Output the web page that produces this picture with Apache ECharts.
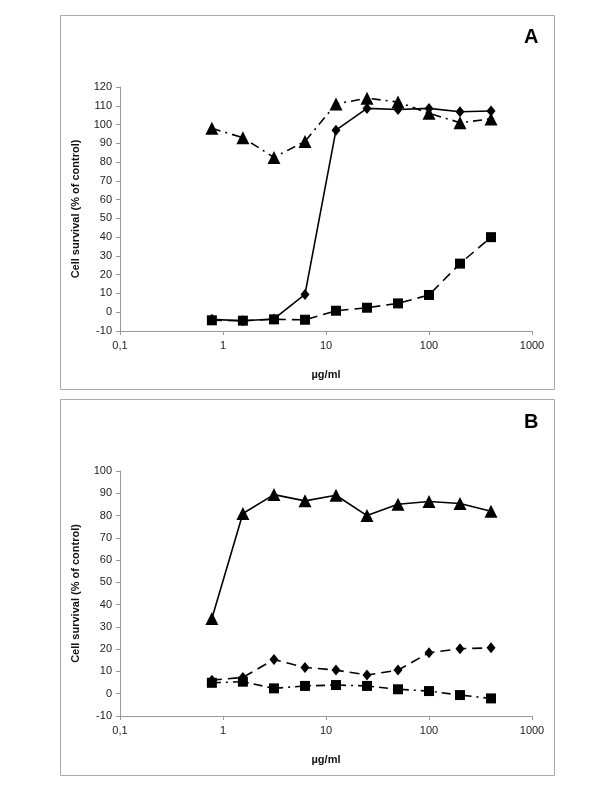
<!DOCTYPE html>
<html><head><meta charset="utf-8">
<script src="https://cdn.jsdelivr.net/npm/echarts@6/dist/echarts.min.js"></script>
<style>html,body{margin:0;padding:0;background:#fff}#c{width:600px;height:800px}</style>
</head><body><div id="c"></div>
<script>
const doses = [0.78, 1.56, 3.125, 6.25, 12.5, 25, 50, 100, 200, 400];
const xTickLabels = ['0,1', '1', '10', '100', '1000'];

// Panel A
const aTriangles = [98, 93, 82.5, 91, 111, 114, 112, 106, 101, 103];
const aDiamonds = [-3.8, -4.5, -3.6, 9.5, 97, 108.6, 108, 108.6, 106.8, 107.2];
const aSquares = [-4.3, -4.5, -3.8, -4, 0.8, 2.4, 4.7, 9.2, 25.9, 40];

// Panel B
const bTriangles = [33.8, 80.9, 89.4, 86.6, 89.1, 80, 85.1, 86.3, 85.4, 81.9];
const bDiamonds = [6.1, 7.3, 15.4, 11.8, 10.6, 8.4, 10.6, 18.4, 20.2, 20.6];
const bSquares = [4.9, 5.4, 2.4, 3.5, 3.9, 3.5, 2, 1.2, -0.6, -2.1];

const FONT = '"Liberation Sans", Arial, sans-serif';
const pairs = arr => doses.map((d, i) => [d, arr[i]]);

const chart = echarts.init(document.getElementById('c'));

function xAxis(gi) {
  return {
    type: 'log', logBase: 10, min: 0.1, max: 1000, gridIndex: gi,
    name: 'µg/ml', nameLocation: 'middle', nameGap: 38,
    nameTextStyle: {fontFamily: FONT, fontWeight: 'bold', fontSize: 11, color: '#111'},
    axisLine: {onZero: false, lineStyle: {color: '#999', width: 1}},
    axisTick: {show: true, length: 4, lineStyle: {color: '#999'}},
    minorTick: {show: false},
    splitLine: {show: false},
    axisLabel: {fontFamily: FONT, fontSize: 11, color: '#222', margin: 9,
      formatter: v => { const k = Math.round(Math.log10(v)); return xTickLabels[k + 1] || ''; }}
  };
}
function yAxis(gi, max) {
  return {
    type: 'value', min: -10, max: max, interval: 10, gridIndex: gi,
    name: 'Cell survival (% of control)', nameLocation: 'middle', nameGap: 39, nameRotate: 90,
    nameTextStyle: {fontFamily: FONT, fontWeight: 'bold', fontSize: 11, color: '#111'},
    axisLine: {show: true, onZero: false, lineStyle: {color: '#999', width: 1}},
    axisTick: {show: true, length: 4, lineStyle: {color: '#999'}},
    splitLine: {show: false},
    axisLabel: {fontFamily: FONT, fontSize: 11, color: '#222', margin: 8}
  };
}
function series(gi, data, symbol, size, dash) {
  return {
    type: 'line', xAxisIndex: gi, yAxisIndex: gi, data: pairs(data),
    symbol: symbol, symbolSize: size, showSymbol: true,
    itemStyle: {color: '#000'},
    lineStyle: {color: '#000', width: 1.6, type: dash},
    animation: false, z: 3
  };
}
const TRI = 'triangle', SQ = 'rect', DIA = 'diamond';
const dashDot = [9, 5, 2, 5];
const dashed = [10, 6];

chart.setOption({
  backgroundColor: '#fff',
  animation: false,
  grid: [
    {left: 120, top: 87, width: 412, height: 244},
    {left: 120, top: 471, width: 412, height: 245}
  ],
  xAxis: [xAxis(0), xAxis(1)],
  yAxis: [yAxis(0, 120), yAxis(1, 100)],
  series: [
    series(0, aTriangles, TRI, 13, dashDot),
    series(0, aDiamonds, DIA, [9, 11], 'solid'),
    series(0, aSquares, SQ, 10, dashed),
    series(1, bTriangles, TRI, 13, 'solid'),
    series(1, bDiamonds, DIA, [9, 11], dashed),
    series(1, bSquares, SQ, 10, dashDot)
  ],
  graphic: [
    {type: 'rect', shape: {x: 60.5, y: 15.5, width: 494, height: 374}, style: {fill: 'none', stroke: '#aaa', lineWidth: 1}},
    {type: 'rect', shape: {x: 60.5, y: 399.5, width: 494, height: 376}, style: {fill: 'none', stroke: '#aaa', lineWidth: 1}},
    {type: 'text', left: 524, top: 27, style: {text: 'A', font: 'bold 20px ' + FONT, fill: '#000'}},
    {type: 'text', left: 524, top: 412, style: {text: 'B', font: 'bold 20px ' + FONT, fill: '#000'}}
  ]
});
</script></body></html>
